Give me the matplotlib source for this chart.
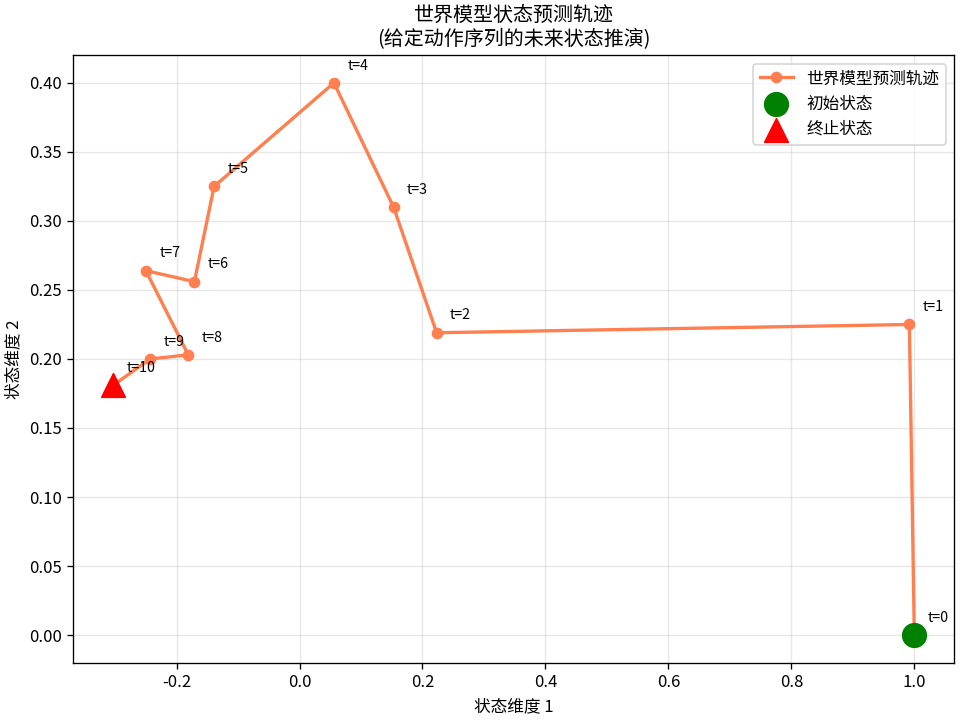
"""World-model predicted trajectory plot."""

import matplotlib

matplotlib.use("Agg")
import matplotlib.pyplot as plt

plt.rcParams["font.family"] = ["Noto Sans CJK SC", "DejaVu Sans"]
plt.rcParams["axes.unicode_minus"] = False

# predicted states (dimension 1, dimension 2) for t = 0..10
state_dim1 = [1.000, 0.992, 0.223, 0.153, 0.056, -0.139, -0.171, -0.250, -0.181, -0.243, -0.303]
state_dim2 = [0.000, 0.225, 0.219, 0.310, 0.400, 0.325, 0.256, 0.264, 0.203, 0.200, 0.181]
step_labels = [f"t={i}" for i in range(len(state_dim1))]

fig, ax = plt.subplots(figsize=(8, 6), dpi=120)

ax.plot(state_dim1, state_dim2, "o-", color="coral", linewidth=2, markersize=6,
        label="世界模型预测轨迹")
ax.scatter(state_dim1[0], state_dim2[0], s=200, color="green", marker="o",
           label="初始状态", zorder=5)
ax.scatter(state_dim1[-1], state_dim2[-1], s=200, color="red", marker="^",
           label="终止状态", zorder=5)

for x, y, lab in zip(state_dim1, state_dim2, step_labels):
    ax.annotate(lab, (x, y), xytext=(8, 8), textcoords="offset points", fontsize=8.5)

ax.set_xlabel("状态维度 1")
ax.set_ylabel("状态维度 2")
ax.set_title("世界模型状态预测轨迹\n(给定动作序列的未来状态推演)")
ax.legend(loc="upper right")
ax.grid(True, alpha=0.3)

plt.tight_layout(pad=0.3)
plt.savefig("out.png", dpi=120)
plt.close()
